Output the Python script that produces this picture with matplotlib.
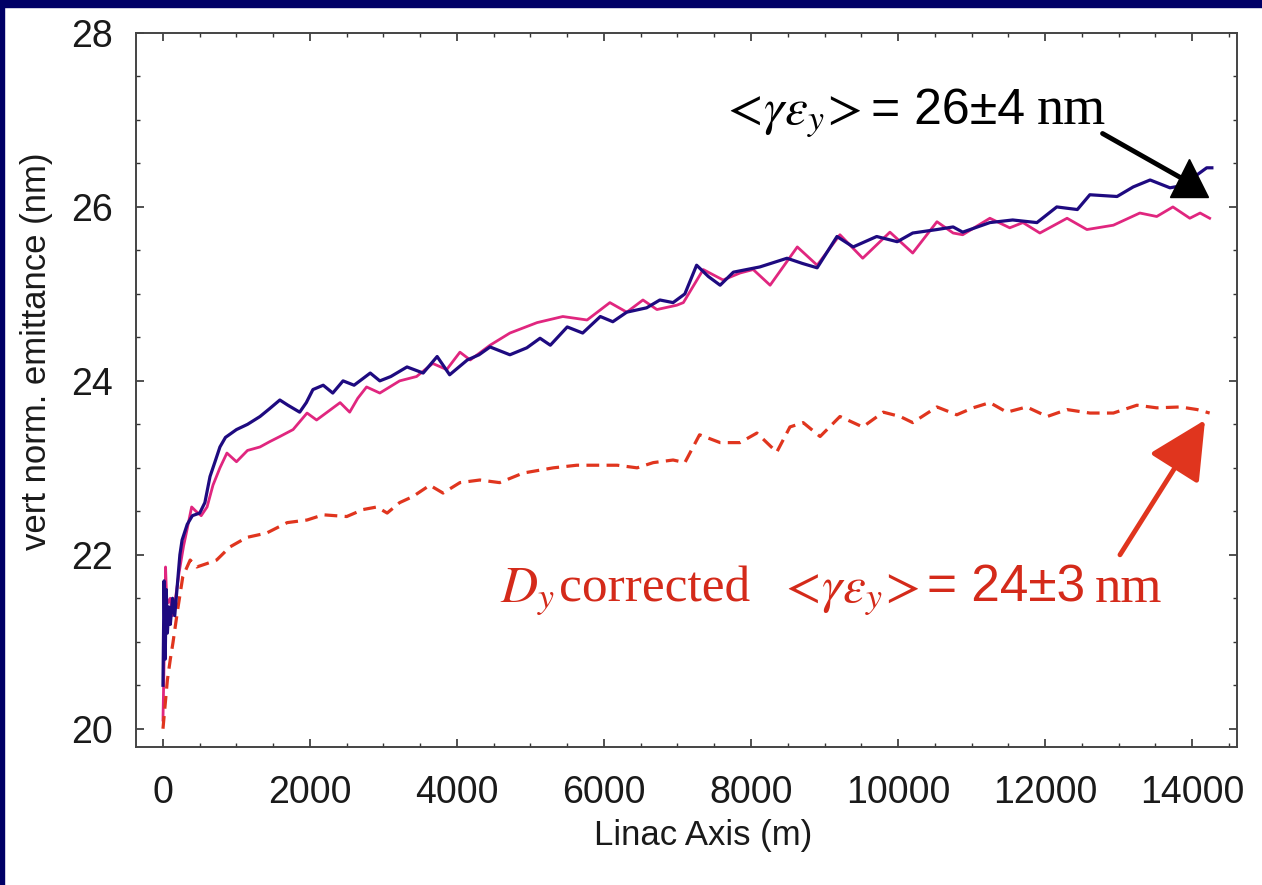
import matplotlib
matplotlib.use("Agg")
import matplotlib.pyplot as plt
from matplotlib.patches import Rectangle
from matplotlib.ticker import MultipleLocator

W, H = 1262, 885

# --- data ---
blue_x = [0, 15, 30, 45, 60, 80, 100, 130, 160, 190, 230, 260, 330, 400, 500,
          570, 640, 700, 775, 850, 1000, 1150, 1320, 1450, 1590, 1700, 1860,
          1950, 2040, 2180, 2310, 2450, 2600, 2820, 2950, 3100, 3320, 3540,
          3730, 3900, 4140, 4300, 4450, 4720, 4950, 5130, 5270, 5500, 5710,
          5950, 6120, 6310, 6580, 6760, 6940, 7100, 7260, 7420, 7580, 7760,
          8120, 8490, 8700, 8900, 9170, 9390, 9710, 9990, 10200, 10530, 10750,
          10880, 11250, 11560, 11890, 12160, 12440, 12610, 12980, 13200,
          13430, 13700, 13900, 14070, 14200, 14270]
blue_y = [20.5, 21.7, 20.8, 21.6, 21.1, 21.4, 21.2, 21.5, 21.3, 21.6, 22.0,
          22.17, 22.35, 22.45, 22.48, 22.6, 22.9, 23.05, 23.24, 23.35, 23.44,
          23.5, 23.59, 23.68, 23.78, 23.72, 23.64, 23.75, 23.9, 23.95, 23.86,
          24.0, 23.95, 24.09, 24.0, 24.05, 24.16, 24.09, 24.28, 24.07, 24.24,
          24.3, 24.39, 24.3, 24.38, 24.49, 24.41, 24.62, 24.55, 24.74, 24.68,
          24.79, 24.84, 24.93, 24.9, 25.0, 25.33, 25.2, 25.1, 25.25, 25.31,
          25.41, 25.35, 25.3, 25.66, 25.54, 25.66, 25.6, 25.7, 25.74, 25.77,
          25.71, 25.82, 25.85, 25.82, 26.0, 25.97, 26.14, 26.12, 26.23, 26.31,
          26.22, 26.25, 26.37, 26.45, 26.45]

pink_x = [0, 20, 35, 50, 70, 100, 130, 170, 220, 280, 330, 390, 450, 520, 600,
          680, 775, 870, 1000, 1150, 1320, 1450, 1590, 1770, 1960, 2090, 2250,
          2410, 2540, 2650, 2770, 2950, 3220, 3450, 3670, 3860, 4040, 4180,
          4450, 4720, 5090, 5440, 5770, 6080, 6310, 6530, 6720, 6990, 7080,
          7350, 7620, 7850, 8030, 8260, 8630, 8900, 9210, 9520, 9890, 10200,
          10530, 10750, 10880, 11250, 11520, 11700, 11930, 12300, 12570, 12930,
          13290, 13520, 13740, 13970, 14110, 14240]
pink_y = [20.1, 21.0, 21.86, 21.5, 21.45, 21.5, 21.3, 21.5, 21.8, 22.1, 22.3,
          22.55, 22.5, 22.45, 22.55, 22.8, 23.0, 23.17, 23.07, 23.2, 23.24,
          23.3, 23.36, 23.44, 23.63, 23.55, 23.65, 23.75, 23.64, 23.8, 23.93,
          23.86, 24.0, 24.05, 24.2, 24.13, 24.33, 24.24, 24.41, 24.55, 24.67,
          24.74, 24.7, 24.9, 24.79, 24.93, 24.82, 24.87, 24.9, 25.28, 25.16,
          25.24, 25.28, 25.1, 25.54, 25.33, 25.68, 25.41, 25.71, 25.47, 25.83,
          25.7, 25.68, 25.87, 25.76, 25.82, 25.7, 25.87, 25.74, 25.79, 25.93,
          25.89, 26.0, 25.87, 25.93, 25.87]

red_x = [0, 60, 100, 136, 200, 270, 370, 460, 600, 730, 910, 1140, 1410, 1690,
         1960, 2180, 2500, 2720, 2910, 3050, 3220, 3400, 3630, 3810, 4040,
         4310, 4580, 4900, 5310, 5630, 5900, 6180, 6450, 6670, 6940, 7100,
         7300, 7580, 7850, 8080, 8350, 8530, 8710, 8940, 9210, 9520, 9800,
         10030, 10200, 10530, 10800, 11020, 11250, 11480, 11750, 12030, 12300,
         12610, 12930, 13250, 13520, 13840, 14070, 14240]
red_y = [20.0, 20.56, 20.8, 20.99, 21.37, 21.75, 21.94, 21.86, 21.9, 21.94,
         22.09, 22.2, 22.25, 22.37, 22.4, 22.46, 22.44, 22.52, 22.55, 22.48,
         22.6, 22.67, 22.8, 22.71, 22.83, 22.86, 22.83, 22.94, 23.0, 23.03,
         23.03, 23.03, 23.0, 23.06, 23.09, 23.06, 23.38, 23.29, 23.29, 23.4,
         23.18, 23.47, 23.52, 23.36, 23.59, 23.47, 23.64, 23.59, 23.52, 23.7,
         23.61, 23.69, 23.75, 23.64, 23.7, 23.59, 23.67, 23.63, 23.63, 23.72,
         23.69, 23.7, 23.67, 23.63]

NAVY = "#000066"
BLUE = "#1e0a80"
PINK = "#e0267f"
RED = "#e0351e"
TXTRED = "#d42a1a"

plt.rcParams["font.family"] = "Liberation Sans"
plt.rcParams["mathtext.fontset"] = "stix"

fig = plt.figure(figsize=(W / 100, H / 100), dpi=100, facecolor="white")

# slide border strips (top and left)
fig.patches.append(Rectangle((0, 1 - 7 / H), 1, 7 / H, transform=fig.transFigure,
                             color=NAVY, zorder=0))
fig.patches.append(Rectangle((0, 0), 4 / W, 1, transform=fig.transFigure,
                             color=NAVY, zorder=0))

ax = fig.add_axes([136 / W, 1 - 747 / H, (1237 - 136) / W, (747 - 33) / H])

ax.plot(pink_x, pink_y, color=PINK, lw=2.0, zorder=3)
ax.plot(blue_x, blue_y, color=BLUE, lw=2.3, zorder=4)
ax.plot(red_x, red_y, color=RED, lw=2.3, dashes=(4, 2.3), zorder=3)

ax.set_xlim(-367, 14612)
ax.set_ylim(19.79, 28.0)
ax.xaxis.set_major_locator(MultipleLocator(2000))
ax.xaxis.set_minor_locator(MultipleLocator(500))
ax.yaxis.set_major_locator(MultipleLocator(2))
ax.yaxis.set_minor_locator(MultipleLocator(0.5))
ax.tick_params(which="both", direction="in", top=True, right=True,
               colors="#333333", labelcolor="#1a1a1a", labelsize=27)
ax.tick_params(which="major", length=6, width=1.2)
ax.tick_params(which="minor", length=3, width=1.0)
ax.tick_params(axis="x", pad=20)
ax.tick_params(axis="y", pad=17)
for s in ax.spines.values():
    s.set_color("#444444")
    s.set_linewidth(1.4)

fig.text(703 / W, 1 - 836 / H, "Linac Axis (m)", fontsize=25, color="#1a1a1a",
         ha="center", va="center")
fig.text(37 / W, 1 - 351 / H, "vert norm. emittance (nm)", fontsize=25,
         color="#1a1a1a", rotation=90, ha="center", va="center")

# arrows
ax.annotate("", xy=(13880, 26.32), xytext=(12750, 26.86),
            arrowprops=dict(arrowstyle="-", color="black", lw=3.5))
ax.plot([13960], [26.33], marker="^", markersize=27, color="black", zorder=6)
ax.annotate("", xy=(14177, 23.55), xytext=(13020, 22.0),
            arrowprops=dict(arrowstyle="-|>,head_length=1.5,head_width=0.75",
                            color=RED, lw=3.5, mutation_scale=24,
                            shrinkA=0, shrinkB=0))


def text_run(x0, base, pieces, color):
    """place text pieces one after another on a common baseline (pixels)"""
    x = x0
    fig.canvas.draw()
    r = fig.canvas.get_renderer()
    for s, fam, size, gap in pieces:
        t = fig.text((x + gap) / W, 1 - base / H, s, fontsize=size, family=fam,
                     color=color, ha="left", va="baseline")
        x = t.get_window_extent(r).x1


text_run(720, 124, [
    (r"$<\!\gamma\varepsilon_y\!>$", "Liberation Serif", 37, 0),
    ("= 26\u00b14", "Liberation Sans", 36, 10),
    ("nm", "Liberation Serif", 39, 12),
], "black")

text_run(500, 602, [
    (r"$D_y$", "Liberation Serif", 37, 0),
    ("corrected", "Liberation Serif", 37, 4),
    (r"$<\!\gamma\varepsilon_y\!>$", "Liberation Serif", 37, 28),
    ("= 24\u00b13", "Liberation Sans", 37, 8),
    ("nm", "Liberation Serif", 38, 10),
], TXTRED)

fig.savefig("out.png", dpi=100, facecolor=fig.get_facecolor())
